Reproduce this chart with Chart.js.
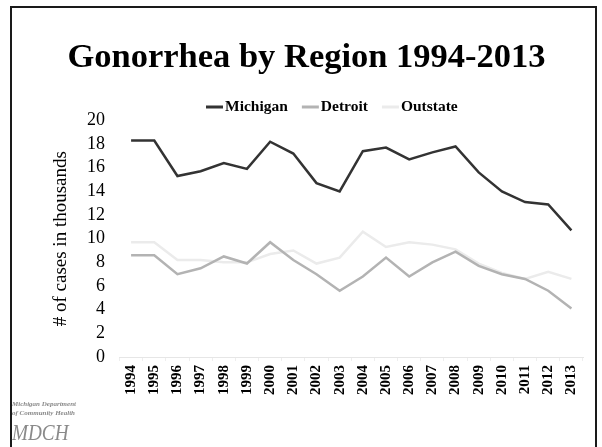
<!DOCTYPE html>
<html>
<head>
<meta charset="utf-8">
<script src="https://cdn.jsdelivr.net/npm/chart.js@4.4.1/dist/chart.umd.min.js"></script>
<style>
  html, body { margin: 0; padding: 0; background: #fff; }
  #wrap { position: relative; width: 602px; height: 447px; overflow: hidden; }
  #frame { position: absolute; left: 10px; top: 6px; width: 587px; height: 460px;
           border: 2.5px solid #1a1a1a; box-sizing: border-box; pointer-events: none; }
  .logo { position: absolute; font-family: "Liberation Serif", serif; font-style: italic; color: #8a8a8a;
          transform-origin: 0 0; white-space: nowrap; }
</style>
</head>
<body>
<div id="wrap">
  <canvas id="chart" width="602" height="447"></canvas>
  <div id="frame"></div>
  <div class="logo" style="left:12px;top:400px;font-size:7px;font-weight:bold;line-height:9px;">Michigan Department<br>of Community Health</div>
  <div class="logo" style="left:12px;top:420px;font-size:24px;line-height:24px;transform:scaleX(0.8);">MDCH</div>
</div>
<script>
var years = ["1994", "1995", "1996", "1997", "1998", "1999", "2000", "2001", "2002", "2003",
             "2004", "2005", "2006", "2007", "2008", "2009", "2010", "2011", "2012", "2013"];
var michigan = [18.3, 18.3, 15.3, 15.7, 16.4, 15.9, 18.2, 17.2, 14.7, 14.0,
                17.4, 17.7, 16.7, 17.3, 17.8, 15.6, 14.0, 13.1, 12.9, 10.7];
var detroit = [8.6, 8.6, 7.0, 7.5, 8.5, 7.9, 9.7, 8.2, 7.0, 5.6,
               6.8, 8.4, 6.8, 8.0, 8.9, 7.7, 7.0, 6.6, 5.6, 4.1];
var outstate = [9.7, 9.7, 8.2, 8.2, 8.0, 8.0, 8.7, 9.0, 7.9, 8.4,
                10.6, 9.3, 9.7, 9.5, 9.1, 7.9, 7.1, 6.6, 7.2, 6.6];

var serif = "'Liberation Serif', 'Times New Roman', serif";

function line(label, data, color) {
  return {
    label: label,
    data: data,
    borderColor: color,
    backgroundColor: color,
    borderWidth: 2.5,
    pointRadius: 0,
    tension: 0,
    fill: false
  };
}

// legend drawn by hand so the short line sits right against the label, like the slide
var slideLegend = {
  id: "slideLegend",
  afterDraw: function(chart) {
    var ctx = chart.ctx;
    var x = 206, y = 107;
    ctx.save();
    ctx.font = "bold 15.5px " + serif;
    ctx.textBaseline = "middle";
    chart.data.datasets.forEach(function(ds) {
      ctx.fillStyle = ds.borderColor;
      ctx.fillRect(x, y - 1.5, 17, 3);
      x += 19;
      ctx.fillStyle = "#000";
      ctx.fillText(ds.label, x, y);
      x += ctx.measureText(ds.label).width + 14;
    });
    ctx.restore();
  }
};

new Chart(document.getElementById("chart"), {
  type: "line",
  data: {
    labels: years,
    datasets: [
      line("Michigan", michigan, "#333333"),
      line("Detroit", detroit, "#b3b3b3"),
      line("Outstate", outstate, "#ebebeb")
    ]
  },
  options: {
    responsive: false,
    animation: false,
    layout: { padding: { left: 30, right: 19, top: 10, bottom: 48 } },
    plugins: {
      title: {
        display: true,
        text: "Gonorrhea by Region 1994-2013",
        color: "#000",
        font: { family: serif, size: 34.5, weight: "bold" },
        padding: { top: 27, bottom: 42 }
      },
      legend: { display: false },
      tooltip: { enabled: false }
    },
    scales: {
      x: {
        offset: true,
        grid: { display: true, drawOnChartArea: false, color: "#eeeeee", tickLength: 4, offset: true },
        border: { color: "#e6e6e6" },
        ticks: {
          color: "#000",
          font: { family: serif, size: 15, weight: "bold" },
          minRotation: 90,
          maxRotation: 90,
          autoSkip: false,
          padding: 4
        }
      },
      y: {
        min: 0,
        max: 20,
        afterFit: function(scale) { scale.width = 89.5; },
        grid: { display: false, drawTicks: false },
        border: { display: false },
        ticks: {
          stepSize: 2,
          autoSkip: false,
          color: "#000",
          font: { family: serif, size: 18 },
          padding: 14.5
        },
        title: {
          display: true,
          text: "# of cases in thousands",
          color: "#000",
          font: { family: serif, size: 19 },
          padding: { top: 20, bottom: 13 }
        }
      }
    }
  },
  plugins: [slideLegend]
});
</script>
</body>
</html>
